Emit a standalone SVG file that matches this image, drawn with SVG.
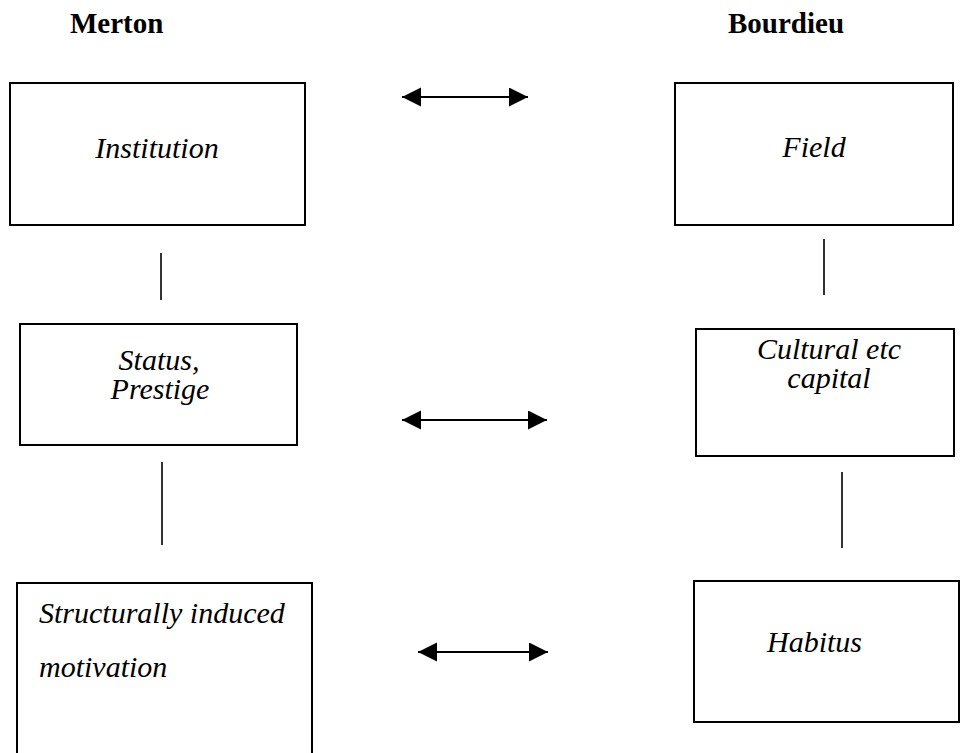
<svg xmlns="http://www.w3.org/2000/svg" width="960" height="753" viewBox="0 0 960 753">
  <style>
    .box { fill: #ffffff; stroke: #000000; stroke-width: 2; }
    .lbl { font-family: "Liberation Serif", "Times New Roman", serif; font-size: 30px; font-style: italic; fill: #000000; }
    .head { font-family: "Liberation Serif", "Times New Roman", serif; font-size: 29px; font-weight: bold; fill: #000000; }
    .link { stroke: #000000; stroke-width: 1.6; fill: none; }
    .arrow { stroke: #000000; stroke-width: 2; fill: none; marker-start: url(#tip); marker-end: url(#tip); }
  </style>
  <defs>
    <marker id="tip" markerUnits="userSpaceOnUse" markerWidth="20" markerHeight="20" refX="19" refY="9.5" orient="auto-start-reverse">
      <path d="M0,0 L19,9.5 L0,19 Z" fill="#000000"/>
    </marker>
  </defs>

  <rect width="960" height="753" fill="#ffffff"/>

  <!-- column headings -->
  <g id="heading-merton"><text class="head" x="70" y="33">Merton</text></g>
  <g id="heading-bourdieu"><text class="head" x="728" y="33">Bourdieu</text></g>

  <!-- Merton column -->
  <g id="institution">
    <rect class="box" x="10" y="83" width="295" height="142"/>
    <text class="lbl" x="157" y="158" text-anchor="middle">Institution</text>
  </g>
  <g id="status-prestige">
    <rect class="box" x="20" y="324" width="277" height="121"/>
    <text class="lbl" x="159" y="370" text-anchor="middle">Status,</text>
    <text class="lbl" x="160" y="399" text-anchor="middle">Prestige</text>
  </g>
  <g id="structural-motivation">
    <rect class="box" x="17" y="583" width="295" height="180"/>
    <text class="lbl" x="39" y="623">Structurally induced</text>
    <text class="lbl" x="39" y="677">motivation</text>
  </g>

  <!-- Bourdieu column -->
  <g id="field">
    <rect class="box" x="675" y="83" width="278" height="142"/>
    <text class="lbl" x="814" y="157" text-anchor="middle">Field</text>
  </g>
  <g id="cultural-capital">
    <rect class="box" x="696" y="329" width="258" height="127"/>
    <text class="lbl" x="829" y="359" text-anchor="middle">Cultural etc</text>
    <text class="lbl" x="829" y="388" text-anchor="middle">capital</text>
  </g>
  <g id="habitus">
    <rect class="box" x="694" y="581" width="265" height="141"/>
    <text class="lbl" x="767" y="652">Habitus</text>
  </g>

  <!-- connectors -->
  <g id="connectors">
    <line class="link" x1="161" y1="253" x2="161" y2="300"/>
    <line class="link" x1="162" y1="462" x2="162" y2="545"/>
    <line class="link" x1="824" y1="239" x2="824" y2="295"/>
    <line class="link" x1="842" y1="472" x2="842" y2="548"/>
    <line class="arrow" x1="402" y1="97" x2="528" y2="97"/>
    <line class="arrow" x1="402" y1="420" x2="547" y2="420"/>
    <line class="arrow" x1="418" y1="652" x2="548" y2="652"/>
  </g>
</svg>
